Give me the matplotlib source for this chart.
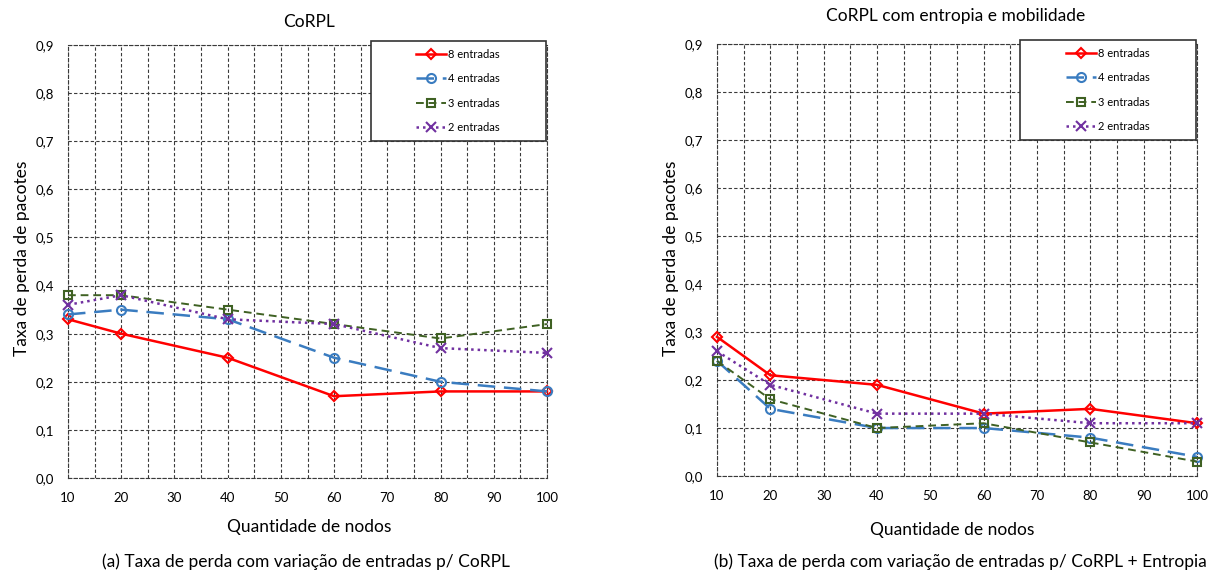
import matplotlib
matplotlib.use("Agg")
import matplotlib.pyplot as plt
from matplotlib.patches import Rectangle
from matplotlib.ticker import MultipleLocator, FuncFormatter

plt.rcParams['font.family'] = ['Lato', 'DejaVu Sans']

# data
nodos = [10, 20, 40, 60, 80, 100]
series_names = ["8 entradas", "4 entradas", "3 entradas", "2 entradas"]

corpl_8 = [0.33, 0.30, 0.25, 0.17, 0.18, 0.18]
corpl_4 = [0.34, 0.35, 0.33, 0.25, 0.20, 0.18]
corpl_3 = [0.38, 0.38, 0.35, 0.32, 0.29, 0.32]
corpl_2 = [0.36, 0.38, 0.33, 0.32, 0.27, 0.26]

entropia_8 = [0.29, 0.21, 0.19, 0.13, 0.14, 0.11]
entropia_4 = [0.24, 0.14, 0.10, 0.10, 0.08, 0.04]
entropia_3 = [0.24, 0.16, 0.10, 0.11, 0.07, 0.03]
entropia_2 = [0.26, 0.19, 0.13, 0.13, 0.11, 0.11]

titles = ["CoRPL", "CoRPL com entropia e mobilidade"]
xlabel = "Quantidade de nodos"
ylabel = "Taxa de perda de pacotes"
captions = ["(a) Taxa de perda com variação de entradas p/ CoRPL",
            "(b) Taxa de perda com variação de entradas p/ CoRPL + Entropia"]

styles = [
    dict(color="#FF0000", ls="-", marker="D", ms=5, lw=1.8),
    dict(color="#3A7CC0", ls=(0, (7, 3.5)), marker="o", ms=6.5, lw=1.8),
    dict(color="#3F6123", ls=(0, (4, 2.5)), marker="s", ms=6, lw=1.4),
    dict(color="#7030A0", ls=(0, (1, 1.6)), marker="x", ms=6.5, lw=1.8),
]

W, H = 1211, 572


def px(x, y):
    return x / W, 1 - y / H


def draw_panel(ax, data):
    for vals, name, st in zip(data, series_names, styles):
        ax.plot(nodos, vals, label=name, color=st["color"], linestyle=st["ls"],
                linewidth=st["lw"], marker=st["marker"], markersize=st["ms"],
                markerfacecolor="none", markeredgecolor=st["color"],
                markeredgewidth=1.5, clip_on=False, zorder=3)
    ax.set_xlim(10, 100)
    ax.set_ylim(0, 0.9)
    ax.xaxis.set_major_locator(MultipleLocator(10))
    ax.xaxis.set_minor_locator(MultipleLocator(5))
    ax.yaxis.set_major_locator(MultipleLocator(0.1))
    ax.yaxis.set_major_formatter(FuncFormatter(lambda v, p: f"{v:.1f}".replace(".", ",")))
    ax.grid(True, which="both", color="#3a3a3a", linestyle=(0, (3, 2)), linewidth=0.8)
    ax.tick_params(which="both", length=0, labelsize=9.5)
    ax.tick_params(axis="y", pad=10)
    ax.tick_params(axis="x", pad=10)
    for sp in ax.spines.values():
        sp.set_linestyle((0, (3, 2)))
        sp.set_linewidth(0.8)
        sp.set_color("#3a3a3a")

    # legend box like the Excel one
    rect = Rectangle((0.632, 0.778), 0.365, 0.232, transform=ax.transAxes,
                     facecolor="white", edgecolor="#333333", linewidth=1.2,
                     clip_on=False, zorder=4)
    ax.add_patch(rect)
    leg = ax.legend(loc="center", bbox_to_anchor=(0.8145, 0.894), frameon=False,
                    fontsize=8, labelspacing=1.2, handlelength=2.7,
                    handletextpad=0.2, borderpad=0)
    leg.set_zorder(5)


fig = plt.figure(figsize=(12.11, 5.72), dpi=100)
ax1 = fig.add_axes([68 / W, 0.1643, 479 / W, 0.757])
ax2 = fig.add_axes([717 / W, 0.1678, 480 / W, 0.755])

draw_panel(ax1, [corpl_8, corpl_4, corpl_3, corpl_2])
draw_panel(ax2, [entropia_8, entropia_4, entropia_3, entropia_2])

fig.text(*px(309, 22), titles[0], ha="center", va="center", fontsize=12.5)
fig.text(*px(956, 16), titles[1], ha="center", va="center", fontsize=12.5)
fig.text(*px(309, 527), xlabel, ha="center", va="center", fontsize=12.5)
fig.text(*px(952, 530), xlabel, ha="center", va="center", fontsize=12.5)
fig.text(*px(22, 258), ylabel, ha="center", va="center", rotation=90, fontsize=12.5)
fig.text(*px(671, 258), ylabel, ha="center", va="center", rotation=90, fontsize=12.5)
fig.text(*px(306, 562), captions[0], ha="center", va="center", fontsize=12.5)
fig.text(*px(960, 562), captions[1], ha="center", va="center", fontsize=12.5)

fig.savefig("out.png", dpi=100)
